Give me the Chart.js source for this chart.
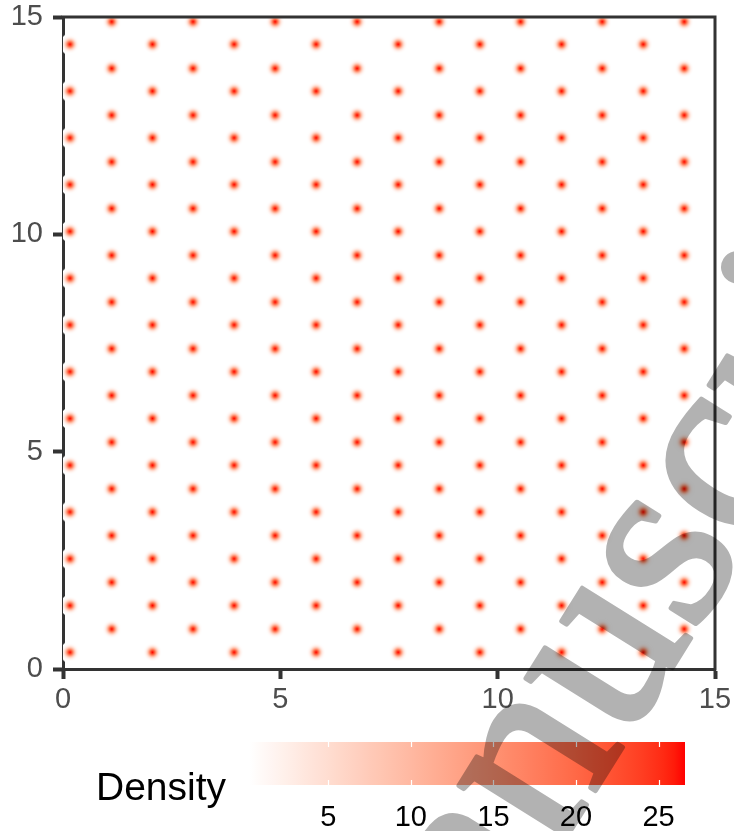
<!DOCTYPE html>
<html>
<head>
<meta charset="utf-8">
<script src="https://cdn.jsdelivr.net/npm/chart.js@4.4.1/dist/chart.umd.min.js"></script>
<style>
  html, body { margin: 0; padding: 0; background: #ffffff; }
  #plot { display: block; }
</style>
</head>
<body>
<canvas id="plot" width="734" height="831" style="width:734px;height:831px"></canvas>
<script>
// Lattice column centres (x) and the two interleaved sets of row centres (y)
const columnX = [0.161, 1.121, 2.058, 2.992, 3.936, 4.879, 5.823, 6.766,
                 7.710, 8.654, 9.590, 10.527, 11.471, 12.405, 13.349, 14.292];
const rowYEvenColumns = [0.384, 1.460, 2.536, 3.612, 4.688, 5.764, 6.840,
                         7.916, 8.992, 10.068, 11.144, 12.220, 13.296, 14.372];
const rowYOddColumns  = [0.920, 1.995, 3.070, 4.144, 5.219, 6.294, 7.369,
                         8.443, 9.518, 10.593, 11.668, 12.742, 13.817, 14.891];
// Density range of the fill scale and the peak value at every site
const densityRange = [0.26, 26.6];
const peakDensity = 26.6;
// Tick labels
const axisTicks = [0, 5, 10, 15];
const legendTicks = [5, 10, 15, 20, 25];
const legendTitle = 'Density';
const watermarkText = 'Manuscript';

// Site table built from the lists above
const sites = [];
columnX.forEach((x, i) => {
  const rows = i % 2 === 0 ? rowYEvenColumns : rowYOddColumns;
  rows.forEach(y => sites.push({ x: x, y: y, d: peakDensity }));
});

// White -> red gradient interpolated in CIE Lab
const LAB_LOW = [100, 0, 0];
const LAB_HIGH = [53.2408, 80.0925, 67.2032];
function lab2rgb(L, a, b) {
  let fy = (L + 16) / 116, fx = a / 500 + fy, fz = fy - b / 200;
  const f = t => (t * t * t > 0.008856 ? t * t * t : (t - 16 / 116) / 7.787);
  const X = 0.95047 * f(fx), Y = f(fy), Z = 1.08883 * f(fz);
  const r = X * 3.2406 - Y * 1.5372 - Z * 0.4986;
  const g = -X * 0.9689 + Y * 1.8758 + Z * 0.0415;
  const bl = X * 0.0557 - Y * 0.2040 + Z * 1.0570;
  const gam = c => (c > 0.0031308 ? 1.055 * Math.pow(c, 1 / 2.4) - 0.055 : 12.92 * c);
  return [r, g, bl].map(c => Math.round(255 * Math.max(0, Math.min(1, gam(c)))));
}
function fillColor(v) {
  const t = Math.max(0, Math.min(1, (v - densityRange[0]) / (densityRange[1] - densityRange[0])));
  return lab2rgb(
    LAB_LOW[0] + t * (LAB_HIGH[0] - LAB_LOW[0]),
    LAB_LOW[1] + t * (LAB_HIGH[1] - LAB_LOW[1]),
    LAB_LOW[2] + t * (LAB_HIGH[2] - LAB_LOW[2]));
}

// Soft density blob used as the point glyph
function makeBlob(peak) {
  const size = 25, sigma = 3.0, c = size / 2;
  const cv = document.createElement('canvas');
  cv.width = size; cv.height = size;
  const g = cv.getContext('2d');
  const img = g.createImageData(size, size);
  for (let j = 0; j < size; j++) {
    for (let i = 0; i < size; i++) {
      const dx = i + 0.5 - c, dy = j + 0.5 - c;
      const v = peak * Math.exp(-(dx * dx + dy * dy) / (2 * sigma * sigma));
      const col = fillColor(v);
      const k = (j * size + i) * 4;
      img.data[k] = col[0]; img.data[k + 1] = col[1]; img.data[k + 2] = col[2];
      img.data[k + 3] = v < 0.05 ? 0 : 255;
    }
  }
  g.putImageData(img, 0, 0);
  return cv;
}
const blob = makeBlob(peakDensity);

const AXIS_COLOR = '#333333';
const TICK_TEXT = '#4D4D4D';
const FONT = "'Liberation Sans', Arial, sans-serif";

// Top and right edges of the panel frame
const framePlugin = {
  id: 'frame',
  afterDatasetsDraw(chart) {
    const { ctx, chartArea: a } = chart;
    ctx.save();
    ctx.strokeStyle = AXIS_COLOR;
    ctx.lineWidth = 3;
    ctx.beginPath();
    ctx.moveTo(a.left - 1.5, a.top);
    ctx.lineTo(a.right, a.top);
    ctx.lineTo(a.right, a.bottom + 1.5);
    ctx.stroke();
    ctx.restore();
  }
};

// Colour bar legend under the panel
const colorbarPlugin = {
  id: 'colorbar',
  afterDraw(chart) {
    const ctx = chart.ctx;
    const barL = 250, barR = 685, barT = 742, barB = 785;
    const toPx = v => barL + (v - densityRange[0]) / (densityRange[1] - densityRange[0]) * (barR - barL);
    ctx.save();
    const grad = ctx.createLinearGradient(barL, 0, barR, 0);
    const n = 40;
    for (let s = 0; s <= n; s++) {
      const v = densityRange[0] + (densityRange[1] - densityRange[0]) * s / n;
      const c = fillColor(v);
      grad.addColorStop(s / n, `rgb(${c[0]},${c[1]},${c[2]})`);
    }
    ctx.fillStyle = grad;
    ctx.fillRect(barL, barT, barR - barL, barB - barT);
    ctx.strokeStyle = '#ffffff';
    ctx.lineWidth = 1.2;
    legendTicks.forEach(v => {
      const x = Math.round(toPx(v)) + 0.5;
      ctx.beginPath();
      ctx.moveTo(x, barT); ctx.lineTo(x, barT + 5);
      ctx.moveTo(x, barB - 5); ctx.lineTo(x, barB);
      ctx.stroke();
    });
    ctx.fillStyle = '#000000';
    ctx.font = `29px ${FONT}`;
    ctx.textAlign = 'center';
    ctx.textBaseline = 'middle';
    legendTicks.forEach(v => ctx.fillText(String(v), toPx(v), 818));
    ctx.font = `39px ${FONT}`;
    ctx.textAlign = 'left';
    ctx.textBaseline = 'alphabetic';
    ctx.fillText(legendTitle, 96, 800);
    ctx.restore();
  }
};

// Diagonal overprint text, letters set one by one on a rotated baseline,
// rendered opaque off-screen then laid over at 30 %
const WM_ADVANCE = { M: 0.889, a: 0.444, n: 0.5, u: 0.5, s: 0.389, c: 0.444,
                     r: 0.333, i: 0.278, p: 0.5, t: 0.278 };
const watermarkPlugin = {
  id: 'watermark',
  afterDraw(chart) {
    const ctx = chart.ctx;
    const off = document.createElement('canvas');
    off.width = chart.width; off.height = chart.height;
    const o = off.getContext('2d');
    const size = 258;
    o.translate(374, 1145);
    o.rotate(-58 * Math.PI / 180);
    o.font = `${size}px 'Liberation Serif', 'Times New Roman', serif`;
    o.fillStyle = '#000000';
    o.strokeStyle = '#000000';
    o.lineWidth = 5;
    o.lineJoin = 'round';
    o.textAlign = 'center';
    o.textBaseline = 'alphabetic';
    let pos = 0;
    for (const ch of watermarkText) {
      const adv = (WM_ADVANCE[ch] || 0.5) * size;
      o.fillText(ch, pos + adv / 2, 0);
      o.strokeText(ch, pos + adv / 2, 0);
      pos += adv;
    }
    ctx.save();
    ctx.globalAlpha = 0.3;
    ctx.drawImage(off, 0, 0);
    ctx.restore();
  }
};

function fixScale(size, isX) {
  return function (scale) {
    if (isX) scale.height = size; else scale.width = size;
    scale.paddingLeft = 0; scale.paddingRight = 0;
    scale.paddingTop = 0; scale.paddingBottom = 0;
  };
}

const axisCommon = {
  type: 'linear',
  min: 0,
  max: 15,
  z: 1,
  afterBuildTicks(scale) { scale.ticks = axisTicks.map(v => ({ value: v })); },
  grid: { drawOnChartArea: false, drawTicks: true, tickLength: 10, tickWidth: 4, tickColor: AXIS_COLOR },
  border: { display: true, color: AXIS_COLOR, width: 3 },
};

new Chart(document.getElementById('plot'), {
  type: 'scatter',
  data: {
    datasets: [{
      data: sites,
      pointStyle: blob,
      pointRadius: 12,
      pointHoverRadius: 12,
      showLine: false,
      clip: 0
    }]
  },
  options: {
    responsive: false,
    animation: false,
    events: [],
    layout: { padding: { left: 0, right: 19, top: 17, bottom: 112 } },
    plugins: { legend: { display: false }, tooltip: { enabled: false } },
    scales: {
      x: Object.assign({}, axisCommon, {
        position: 'bottom',
        ticks: { font: { family: FONT, size: 29 }, color: TICK_TEXT, padding: 4, maxRotation: 0, autoSkip: false },
        afterFit: fixScale(50, true)
      }),
      y: Object.assign({}, axisCommon, {
        position: 'left',
        ticks: { font: { family: FONT, size: 29 }, color: TICK_TEXT, padding: 10, autoSkip: false },
        afterFit: fixScale(63, false)
      })
    }
  },
  plugins: [framePlugin, colorbarPlugin, watermarkPlugin]
});
</script>
</body>
</html>
